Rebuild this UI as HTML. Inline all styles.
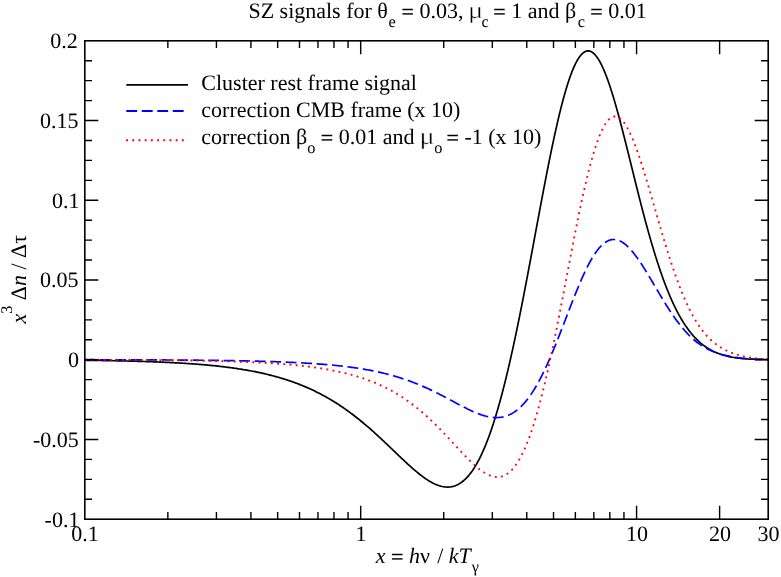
<!DOCTYPE html>
<html><head><meta charset="utf-8"><title>SZ signals</title>
<style>
html,body{margin:0;padding:0;background:#fff;}
body{width:781px;height:577px;overflow:hidden;}
svg{display:block;}
svg{will-change:transform;}
text{text-rendering:geometricPrecision;font-family:"Liberation Serif",serif;font-size:22px;fill:#000;}
.i{font-style:italic;}
.sub{font-size:16.3px;}
.eq{stroke:#000;stroke-width:0.3px;}
</style></head><body>
<svg width="781" height="577" viewBox="0 0 781 577">
<rect x="0" y="0" width="781" height="577" fill="#fff"/>
<g fill="none" stroke-linejoin="round">
<path d="M85.00,360.30 L86.20,360.31 L87.40,360.32 L88.60,360.34 L89.80,360.35 L91.01,360.37 L92.21,360.39 L93.41,360.40 L94.61,360.42 L95.81,360.44 L97.01,360.45 L98.21,360.47 L99.41,360.49 L100.61,360.51 L101.81,360.52 L103.02,360.54 L104.22,360.56 L105.42,360.58 L106.62,360.60 L107.82,360.62 L109.02,360.64 L110.22,360.66 L111.42,360.69 L112.62,360.71 L113.82,360.73 L115.03,360.75 L116.23,360.78 L117.43,360.80 L118.63,360.83 L119.83,360.85 L121.03,360.88 L122.23,360.90 L123.43,360.93 L124.63,360.96 L125.83,360.99 L127.03,361.01 L128.24,361.04 L129.44,361.07 L130.64,361.10 L131.84,361.13 L133.04,361.16 L134.24,361.20 L135.44,361.23 L136.64,361.26 L137.84,361.30 L139.04,361.33 L140.24,361.37 L141.44,361.40 L142.64,361.44 L143.84,361.48 L145.05,361.52 L146.25,361.56 L147.45,361.60 L148.65,361.64 L149.85,361.68 L151.05,361.72 L152.25,361.76 L153.45,361.81 L154.65,361.85 L155.85,361.90 L157.05,361.95 L158.25,361.99 L159.45,362.04 L160.65,362.09 L161.85,362.14 L163.05,362.20 L164.25,362.25 L165.45,362.30 L166.65,362.36 L167.85,362.41 L169.05,362.47 L170.25,362.53 L171.45,362.59 L172.65,362.65 L173.85,362.71 L175.05,362.78 L176.25,362.84 L177.45,362.91 L178.65,362.98 L179.84,363.05 L181.04,363.12 L182.24,363.19 L183.44,363.26 L184.64,363.34 L185.84,363.41 L187.04,363.49 L188.24,363.57 L189.44,363.65 L190.63,363.73 L191.83,363.82 L193.03,363.90 L194.23,363.99 L195.43,364.08 L196.62,364.17 L197.82,364.26 L199.02,364.36 L200.22,364.45 L201.41,364.55 L202.61,364.65 L203.81,364.76 L205.00,364.86 L206.20,364.97 L207.40,365.08 L208.59,365.19 L209.79,365.30 L210.98,365.41 L212.18,365.53 L213.37,365.65 L214.57,365.77 L215.76,365.90 L216.96,366.03 L218.15,366.16 L219.35,366.29 L220.54,366.42 L221.73,366.56 L222.93,366.70 L224.12,366.84 L225.31,366.99 L226.50,367.14 L227.69,367.29 L228.89,367.44 L230.08,367.60 L231.27,367.76 L232.46,367.92 L233.65,368.09 L234.84,368.26 L236.02,368.43 L237.21,368.61 L238.40,368.79 L239.59,368.97 L240.77,369.16 L241.96,369.35 L243.15,369.54 L244.33,369.74 L245.51,369.94 L246.70,370.14 L247.88,370.35 L249.06,370.56 L250.24,370.78 L251.43,371.00 L252.61,371.22 L253.79,371.45 L254.96,371.69 L256.14,371.92 L257.32,372.16 L258.49,372.41 L259.67,372.66 L260.84,372.91 L262.02,373.17 L263.19,373.43 L264.36,373.70 L265.53,373.97 L266.70,374.25 L267.87,374.53 L269.03,374.82 L270.20,375.11 L271.36,375.41 L272.52,375.71 L273.68,376.02 L274.84,376.33 L276.00,376.65 L277.16,376.97 L278.32,377.30 L279.47,377.63 L280.62,377.97 L281.77,378.31 L282.92,378.66 L284.07,379.02 L285.22,379.38 L286.36,379.74 L287.50,380.12 L288.64,380.49 L289.78,380.88 L290.92,381.27 L292.05,381.66 L293.18,382.06 L294.31,382.47 L295.44,382.88 L296.57,383.30 L297.69,383.73 L298.81,384.16 L299.93,384.60 L301.05,385.04 L302.16,385.49 L303.27,385.94 L304.38,386.40 L305.49,386.87 L306.59,387.35 L307.69,387.83 L308.79,388.31 L309.89,388.81 L310.98,389.30 L312.07,389.81 L313.16,390.32 L314.24,390.84 L315.32,391.36 L316.40,391.89 L317.47,392.43 L318.55,392.97 L319.62,393.52 L320.68,394.07 L321.74,394.63 L322.80,395.20 L323.86,395.77 L324.91,396.35 L325.96,396.93 L327.01,397.52 L328.05,398.12 L329.09,398.72 L330.13,399.32 L331.16,399.94 L332.19,400.56 L333.22,401.18 L334.24,401.81 L335.26,402.45 L336.27,403.09 L337.29,403.73 L338.29,404.39 L339.30,405.04 L340.30,405.71 L341.30,406.37 L342.29,407.05 L343.29,407.72 L344.27,408.41 L345.26,409.10 L346.24,409.79 L347.22,410.49 L348.19,411.19 L349.16,411.90 L350.13,412.61 L351.10,413.32 L352.06,414.04 L353.01,414.77 L353.97,415.50 L354.92,416.23 L355.87,416.97 L356.81,417.71 L357.76,418.46 L358.69,419.21 L359.63,419.96 L360.56,420.72 L361.49,421.48 L362.42,422.24 L363.34,423.01 L364.26,423.78 L365.18,424.55 L366.10,425.33 L367.01,426.11 L367.92,426.90 L368.83,427.68 L369.73,428.47 L370.64,429.26 L371.54,430.06 L372.43,430.86 L373.33,431.66 L374.22,432.46 L375.11,433.27 L376.00,434.07 L376.89,434.88 L377.78,435.69 L378.66,436.51 L379.54,437.32 L380.42,438.14 L381.30,438.96 L382.18,439.78 L383.05,440.60 L383.93,441.43 L384.80,442.25 L385.67,443.08 L386.54,443.90 L387.41,444.73 L388.28,445.56 L389.15,446.39 L390.02,447.22 L390.89,448.05 L391.75,448.88 L392.62,449.72 L393.49,450.55 L394.35,451.38 L395.22,452.21 L396.09,453.04 L396.95,453.88 L397.82,454.71 L398.69,455.54 L399.56,456.37 L400.43,457.19 L401.30,458.02 L402.17,458.85 L403.05,459.67 L403.92,460.49 L404.80,461.31 L405.68,462.13 L406.56,462.95 L407.44,463.76 L408.33,464.57 L409.22,465.38 L410.11,466.19 L411.00,466.99 L411.90,467.78 L412.81,468.57 L413.71,469.36 L414.62,470.15 L415.54,470.92 L416.46,471.69 L417.39,472.46 L418.32,473.22 L419.26,473.97 L420.20,474.71 L421.15,475.44 L422.11,476.17 L423.08,476.88 L424.05,477.58 L425.03,478.28 L426.02,478.95 L427.02,479.62 L428.03,480.27 L429.06,480.90 L430.09,481.52 L431.13,482.11 L432.19,482.68 L433.25,483.24 L434.33,483.76 L435.43,484.26 L436.53,484.73 L437.65,485.16 L438.79,485.56 L439.93,485.92 L441.09,486.24 L442.26,486.51 L443.44,486.73 L444.63,486.90 L445.82,487.02 L447.02,487.07 L448.23,487.07 L449.42,487.00 L450.62,486.86 L451.80,486.66 L452.97,486.40 L454.13,486.07 L455.27,485.69 L456.38,485.24 L457.47,484.74 L458.54,484.19 L459.58,483.58 L460.59,482.94 L461.58,482.25 L462.54,481.53 L463.47,480.77 L464.37,479.98 L465.26,479.17 L466.11,478.33 L466.95,477.46 L467.76,476.58 L468.55,475.67 L469.32,474.75 L470.07,473.81 L470.80,472.86 L471.52,471.89 L472.22,470.92 L472.90,469.93 L473.56,468.93 L474.22,467.92 L474.85,466.90 L475.48,465.88 L476.09,464.84 L476.69,463.80 L477.28,462.76 L477.86,461.70 L478.43,460.65 L478.99,459.58 L479.53,458.51 L480.07,457.44 L480.60,456.36 L481.12,455.28 L481.64,454.19 L482.14,453.10 L482.64,452.01 L483.13,450.91 L483.61,449.81 L484.09,448.71 L484.56,447.61 L485.02,446.50 L485.48,445.39 L485.93,444.27 L486.38,443.16 L486.82,442.04 L487.26,440.92 L487.69,439.80 L488.11,438.68 L488.53,437.55 L488.95,436.43 L489.36,435.30 L489.77,434.17 L490.17,433.04 L490.57,431.90 L490.96,430.77 L491.35,429.63 L491.74,428.50 L492.12,427.36 L492.50,426.22 L492.88,425.08 L493.25,423.93 L493.62,422.79 L493.99,421.65 L494.35,420.50 L494.71,419.36 L495.07,418.21 L495.42,417.06 L495.77,415.91 L496.12,414.76 L496.47,413.61 L496.81,412.46 L497.15,411.31 L497.49,410.16 L497.82,409.00 L498.16,407.85 L498.49,406.69 L498.81,405.54 L499.14,404.38 L499.46,403.23 L499.79,402.07 L500.10,400.91 L500.42,399.75 L500.74,398.59 L501.05,397.43 L501.36,396.27 L501.67,395.11 L501.98,393.95 L502.29,392.79 L502.59,391.63 L502.89,390.47 L503.19,389.30 L503.49,388.14 L503.79,386.98 L504.08,385.81 L504.38,384.65 L504.67,383.48 L504.96,382.32 L505.25,381.15 L505.54,379.98 L505.83,378.82 L506.11,377.65 L506.39,376.48 L506.68,375.32 L506.96,374.15 L507.24,372.98 L507.52,371.81 L507.79,370.64 L508.07,369.47 L508.34,368.31 L508.62,367.14 L508.89,365.97 L509.16,364.80 L509.43,363.63 L509.70,362.45 L509.97,361.28 L510.23,360.11 L510.50,358.94 L510.77,357.77 L511.03,356.60 L511.29,355.43 L511.55,354.25 L511.81,353.08 L512.07,351.91 L512.33,350.73 L512.59,349.56 L512.85,348.39 L513.10,347.21 L513.36,346.04 L513.61,344.87 L513.87,343.69 L514.12,342.52 L514.37,341.34 L514.62,340.17 L514.87,338.99 L515.12,337.82 L515.37,336.64 L515.62,335.47 L515.87,334.29 L516.11,333.12 L516.36,331.94 L516.60,330.77 L516.85,329.59 L517.09,328.41 L517.34,327.24 L517.58,326.06 L517.82,324.89 L518.06,323.71 L518.30,322.53 L518.54,321.35 L518.78,320.18 L519.02,319.00 L519.26,317.82 L519.50,316.65 L519.73,315.47 L519.97,314.29 L520.21,313.11 L520.44,311.94 L520.68,310.76 L520.91,309.58 L521.15,308.40 L521.38,307.22 L521.61,306.04 L521.85,304.87 L522.08,303.69 L522.31,302.51 L522.54,301.33 L522.77,300.15 L523.00,298.97 L523.23,297.79 L523.46,296.62 L523.69,295.44 L523.92,294.26 L524.15,293.08 L524.38,291.90 L524.61,290.72 L524.83,289.54 L525.06,288.36 L525.29,287.18 L525.51,286.00 L525.74,284.82 L525.97,283.64 L526.19,282.46 L526.42,281.28 L526.64,280.10 L526.87,278.92 L527.09,277.74 L527.32,276.56 L527.54,275.38 L527.76,274.20 L527.99,273.02 L528.21,271.84 L528.43,270.66 L528.66,269.48 L528.88,268.30 L529.10,267.12 L529.32,265.94 L529.55,264.76 L529.77,263.58 L529.99,262.40 L530.21,261.22 L530.43,260.04 L530.65,258.86 L530.87,257.68 L531.10,256.49 L531.32,255.31 L531.54,254.13 L531.76,252.95 L531.98,251.77 L532.20,250.59 L532.42,249.41 L532.64,248.23 L532.86,247.05 L533.08,245.87 L533.30,244.69 L533.52,243.51 L533.74,242.32 L533.96,241.14 L534.18,239.96 L534.40,238.78 L534.62,237.60 L534.84,236.42 L535.06,235.24 L535.28,234.06 L535.50,232.88 L535.71,231.70 L535.93,230.52 L536.15,229.33 L536.37,228.15 L536.59,226.97 L536.81,225.79 L537.03,224.61 L537.25,223.43 L537.47,222.25 L537.69,221.07 L537.91,219.89 L538.13,218.71 L538.35,217.53 L538.57,216.35 L538.80,215.16 L539.02,213.98 L539.24,212.80 L539.46,211.62 L539.68,210.44 L539.90,209.26 L540.12,208.08 L540.34,206.90 L540.57,205.72 L540.79,204.54 L541.01,203.36 L541.23,202.18 L541.46,201.00 L541.68,199.82 L541.90,198.64 L542.13,197.46 L542.35,196.28 L542.57,195.10 L542.80,193.92 L543.02,192.74 L543.25,191.56 L543.47,190.38 L543.70,189.20 L543.92,188.02 L544.15,186.84 L544.38,185.66 L544.60,184.48 L544.83,183.30 L545.06,182.12 L545.29,180.94 L545.52,179.76 L545.74,178.58 L545.97,177.40 L546.20,176.22 L546.43,175.05 L546.66,173.87 L546.90,172.69 L547.13,171.51 L547.36,170.33 L547.59,169.15 L547.83,167.97 L548.06,166.80 L548.29,165.62 L548.53,164.44 L548.77,163.26 L549.00,162.08 L549.24,160.91 L549.48,159.73 L549.71,158.55 L549.95,157.38 L550.19,156.20 L550.43,155.02 L550.67,153.84 L550.92,152.67 L551.16,151.49 L551.40,150.32 L551.65,149.14 L551.89,147.96 L552.14,146.79 L552.38,145.61 L552.63,144.44 L552.88,143.26 L553.13,142.09 L553.38,140.91 L553.63,139.74 L553.89,138.56 L554.14,137.39 L554.39,136.22 L554.65,135.04 L554.91,133.87 L555.17,132.70 L555.43,131.52 L555.69,130.35 L555.95,129.18 L556.21,128.01 L556.48,126.83 L556.74,125.66 L557.01,124.49 L557.28,123.32 L557.55,122.15 L557.82,120.98 L558.09,119.81 L558.37,118.64 L558.65,117.47 L558.92,116.30 L559.20,115.14 L559.49,113.97 L559.77,112.80 L560.06,111.64 L560.34,110.47 L560.64,109.30 L560.93,108.14 L561.22,106.97 L561.52,105.81 L561.82,104.65 L562.12,103.48 L562.42,102.32 L562.73,101.16 L563.04,100.00 L563.35,98.84 L563.67,97.68 L563.99,96.52 L564.31,95.37 L564.63,94.21 L564.96,93.05 L565.29,91.90 L565.63,90.75 L565.97,89.59 L566.31,88.44 L566.66,87.29 L567.01,86.15 L567.37,85.00 L567.73,83.85 L568.10,82.71 L568.47,81.57 L568.85,80.43 L569.23,79.29 L569.63,78.15 L570.02,77.02 L570.43,75.89 L570.84,74.76 L571.26,73.63 L571.69,72.51 L572.12,71.39 L572.57,70.28 L573.03,69.17 L573.50,68.06 L573.98,66.96 L574.47,65.87 L574.98,64.78 L575.51,63.70 L576.05,62.63 L576.61,61.57 L577.20,60.52 L577.80,59.48 L578.44,58.46 L579.10,57.46 L579.80,56.48 L580.54,55.53 L581.32,54.62 L582.16,53.76 L583.05,52.96 L584.02,52.25 L585.06,51.65 L586.17,51.20 L587.35,50.95 L588.55,50.92 L589.73,51.12 L590.86,51.53 L591.92,52.09 L592.91,52.77 L593.83,53.54 L594.69,54.38 L595.49,55.27 L596.25,56.20 L596.98,57.16 L597.66,58.14 L598.32,59.15 L598.95,60.17 L599.56,61.21 L600.14,62.26 L600.71,63.32 L601.25,64.39 L601.79,65.46 L602.30,66.55 L602.81,67.64 L603.30,68.73 L603.78,69.83 L604.25,70.94 L604.72,72.05 L605.17,73.16 L605.61,74.28 L606.05,75.40 L606.48,76.52 L606.90,77.64 L607.32,78.77 L607.73,79.90 L608.13,81.03 L608.53,82.16 L608.92,83.30 L609.31,84.43 L609.70,85.57 L610.08,86.71 L610.45,87.85 L610.82,88.99 L611.19,90.14 L611.55,91.28 L611.92,92.43 L612.27,93.58 L612.63,94.72 L612.98,95.87 L613.33,97.02 L613.67,98.17 L614.01,99.32 L614.35,100.48 L614.69,101.63 L615.03,102.78 L615.36,103.94 L615.69,105.09 L616.02,106.25 L616.35,107.40 L616.67,108.56 L616.99,109.71 L617.31,110.87 L617.63,112.03 L617.95,113.19 L618.27,114.35 L618.58,115.51 L618.90,116.67 L619.21,117.83 L619.52,118.99 L619.83,120.15 L620.14,121.31 L620.44,122.47 L620.75,123.63 L621.05,124.79 L621.36,125.95 L621.66,127.12 L621.96,128.28 L622.26,129.44 L622.56,130.61 L622.86,131.77 L623.16,132.93 L623.46,134.10 L623.75,135.26 L624.05,136.42 L624.35,137.59 L624.64,138.75 L624.94,139.92 L625.23,141.08 L625.52,142.25 L625.81,143.41 L626.11,144.58 L626.40,145.74 L626.69,146.91 L626.98,148.07 L627.27,149.24 L627.56,150.40 L627.85,151.57 L628.14,152.74 L628.43,153.90 L628.72,155.07 L629.01,156.23 L629.29,157.40 L629.58,158.57 L629.87,159.73 L630.16,160.90 L630.45,162.06 L630.74,163.23 L631.02,164.40 L631.31,165.56 L631.60,166.73 L631.89,167.90 L632.18,169.06 L632.46,170.23 L632.75,171.39 L633.04,172.56 L633.33,173.73 L633.62,174.89 L633.90,176.06 L634.19,177.22 L634.48,178.39 L634.77,179.56 L635.06,180.72 L635.35,181.89 L635.64,183.05 L635.93,184.22 L636.22,185.38 L636.51,186.55 L636.80,187.71 L637.10,188.88 L637.39,190.04 L637.68,191.21 L637.97,192.37 L638.27,193.54 L638.56,194.70 L638.86,195.87 L639.15,197.03 L639.45,198.20 L639.74,199.36 L640.04,200.52 L640.34,201.69 L640.64,202.85 L640.94,204.02 L641.24,205.18 L641.54,206.34 L641.84,207.50 L642.14,208.67 L642.44,209.83 L642.75,210.99 L643.05,212.15 L643.36,213.32 L643.66,214.48 L643.97,215.64 L644.28,216.80 L644.58,217.96 L644.89,219.12 L645.21,220.28 L645.52,221.44 L645.83,222.60 L646.14,223.76 L646.46,224.92 L646.78,226.08 L647.09,227.24 L647.41,228.39 L647.73,229.55 L648.05,230.71 L648.37,231.87 L648.70,233.02 L649.02,234.18 L649.35,235.34 L649.68,236.49 L650.01,237.65 L650.34,238.80 L650.67,239.96 L651.00,241.11 L651.34,242.26 L651.68,243.42 L652.01,244.57 L652.35,245.72 L652.70,246.87 L653.04,248.02 L653.39,249.17 L653.73,250.32 L654.08,251.47 L654.43,252.62 L654.79,253.77 L655.14,254.92 L655.50,256.06 L655.86,257.21 L656.22,258.36 L656.58,259.50 L656.95,260.64 L657.31,261.79 L657.68,262.93 L658.06,264.07 L658.43,265.21 L658.81,266.35 L659.19,267.49 L659.57,268.63 L659.96,269.77 L660.35,270.91 L660.74,272.04 L661.13,273.18 L661.53,274.31 L661.93,275.44 L662.33,276.58 L662.73,277.71 L663.14,278.84 L663.56,279.96 L663.97,281.09 L664.39,282.22 L664.81,283.34 L665.24,284.46 L665.67,285.59 L666.10,286.71 L666.54,287.82 L666.98,288.94 L667.43,290.06 L667.88,291.17 L668.33,292.28 L668.79,293.39 L669.25,294.50 L669.72,295.61 L670.19,296.71 L670.67,297.82 L671.15,298.92 L671.64,300.01 L672.13,301.11 L672.63,302.20 L673.13,303.29 L673.64,304.38 L674.15,305.47 L674.67,306.55 L675.20,307.63 L675.73,308.70 L676.27,309.78 L676.82,310.85 L677.38,311.91 L677.94,312.98 L678.50,314.03 L679.08,315.09 L679.66,316.14 L680.25,317.18 L680.85,318.22 L681.46,319.26 L682.08,320.29 L682.70,321.32 L683.34,322.34 L683.98,323.35 L684.64,324.36 L685.30,325.36 L685.98,326.35 L686.66,327.34 L687.36,328.32 L688.06,329.29 L688.78,330.25 L689.51,331.21 L690.25,332.15 L691.01,333.09 L691.77,334.01 L692.55,334.92 L693.34,335.83 L694.15,336.72 L694.97,337.60 L695.80,338.46 L696.65,339.32 L697.51,340.15 L698.38,340.98 L699.27,341.78 L700.18,342.58 L701.09,343.35 L702.03,344.11 L702.97,344.85 L703.93,345.57 L704.90,346.28 L705.89,346.96 L706.89,347.62 L707.91,348.27 L708.93,348.89 L709.97,349.49 L711.02,350.08 L712.09,350.64 L713.16,351.17 L714.24,351.69 L715.34,352.19 L716.44,352.66 L717.55,353.12 L718.67,353.55 L719.80,353.96 L720.94,354.36 L722.08,354.73 L723.23,355.08 L724.38,355.42 L725.54,355.73 L726.70,356.03 L727.87,356.31 L729.04,356.57 L730.22,356.82 L731.40,357.05 L732.58,357.27 L733.76,357.47 L734.95,357.66 L736.14,357.83 L737.33,357.99 L738.52,358.14 L739.71,358.28 L740.91,358.41 L742.10,358.53 L743.30,358.64 L744.50,358.73 L745.69,358.83 L746.89,358.91 L748.09,358.98 L749.29,359.05 L750.49,359.11 L751.69,359.17 L752.89,359.22 L754.09,359.27 L755.29,359.31 L756.49,359.34 L757.69,359.38 L758.89,359.40 L760.09,359.43 L761.29,359.45 L762.49,359.47 L763.70,359.49 L764.90,359.51 L766.10,359.52 L767.30,359.53 L768.20,359.54" stroke="#000" stroke-width="1.7"/>
<path d="M85.00,359.70 L86.20,359.70 L87.41,359.70 L88.61,359.71 L89.81,359.71 L91.01,359.71 L92.22,359.71 L93.42,359.72 L94.62,359.72 L95.82,359.72 L97.03,359.72 L98.23,359.72 L99.43,359.73 L100.63,359.73 L101.84,359.73 L103.04,359.73 L104.24,359.74 L105.44,359.74 L106.65,359.74 L107.85,359.75 L109.05,359.75 L110.25,359.75 L111.46,359.75 L112.66,359.76 L113.86,359.76 L115.06,359.76 L116.27,359.77 L117.47,359.77 L118.67,359.77 L119.87,359.78 L121.08,359.78 L122.28,359.78 L123.48,359.79 L124.68,359.79 L125.89,359.80 L127.09,359.80 L128.29,359.80 L129.50,359.81 L130.70,359.81 L131.90,359.81 L133.10,359.82 L134.31,359.82 L135.51,359.83 L136.71,359.83 L137.91,359.84 L139.12,359.84 L140.32,359.85 L141.52,359.85 L142.72,359.86 L143.93,359.86 L145.13,359.87 L146.33,359.87 L147.53,359.88 L148.74,359.88 L149.94,359.89 L151.14,359.89 L152.34,359.90 L153.55,359.90 L154.75,359.91 L155.95,359.92 L157.15,359.92 L158.36,359.93 L159.56,359.93 L160.76,359.94 L161.96,359.95 L163.17,359.95 L164.37,359.96 L165.57,359.97 L166.77,359.98 L167.98,359.98 L169.18,359.99 L170.38,360.00 L171.58,360.01 L172.79,360.01 L173.99,360.02 L175.19,360.03 L176.39,360.04 L177.60,360.05 L178.80,360.06 L180.00,360.06 L181.20,360.07 L182.41,360.08 L183.61,360.09 L184.81,360.10 L186.02,360.11 L187.22,360.12 L188.42,360.13 L189.62,360.14 L190.83,360.15 L192.03,360.16 L193.23,360.17 L194.43,360.18 L195.64,360.20 L196.84,360.21 L198.04,360.22 L199.24,360.23 L200.45,360.24 L201.65,360.26 L202.85,360.27 L204.05,360.28 L205.26,360.29 L206.46,360.31 L207.66,360.32 L208.86,360.34 L210.07,360.35 L211.27,360.36 L212.47,360.38 L213.67,360.39 L214.88,360.41 L216.08,360.43 L217.28,360.44 L218.48,360.46 L219.69,360.47 L220.89,360.49 L222.09,360.51 L223.29,360.53 L224.49,360.54 L225.70,360.56 L226.90,360.58 L228.10,360.60 L229.30,360.62 L230.51,360.64 L231.71,360.66 L232.91,360.68 L234.11,360.70 L235.32,360.72 L236.52,360.74 L237.72,360.77 L238.92,360.79 L240.13,360.81 L241.33,360.84 L242.53,360.86 L243.73,360.88 L244.94,360.91 L246.14,360.93 L247.34,360.96 L248.54,360.99 L249.74,361.01 L250.95,361.04 L252.15,361.07 L253.35,361.10 L254.55,361.13 L255.76,361.16 L256.96,361.19 L258.16,361.22 L259.36,361.25 L260.56,361.28 L261.77,361.32 L262.97,361.35 L264.17,361.38 L265.37,361.42 L266.57,361.45 L267.78,361.49 L268.98,361.53 L270.18,361.57 L271.38,361.60 L272.58,361.64 L273.79,361.68 L274.99,361.72 L276.19,361.77 L277.39,361.81 L278.59,361.85 L279.80,361.90 L281.00,361.94 L282.20,361.99 L283.40,362.04 L284.60,362.09 L285.80,362.14 L287.01,362.19 L288.21,362.24 L289.41,362.29 L290.61,362.34 L291.81,362.40 L293.01,362.45 L294.21,362.51 L295.41,362.57 L296.62,362.63 L297.82,362.69 L299.02,362.75 L300.22,362.82 L301.42,362.88 L302.62,362.95 L303.82,363.01 L305.02,363.08 L306.22,363.15 L307.42,363.23 L308.62,363.30 L309.82,363.38 L311.02,363.45 L312.22,363.53 L313.42,363.61 L314.62,363.69 L315.82,363.78 L317.02,363.86 L318.22,363.95 L319.42,364.04 L320.62,364.13 L321.82,364.22 L323.02,364.32 L324.22,364.42 L325.41,364.51 L326.61,364.62 L327.81,364.72 L329.01,364.83 L330.21,364.93 L331.40,365.05 L332.60,365.16 L333.80,365.27 L334.99,365.39 L336.19,365.51 L337.39,365.64 L338.58,365.76 L339.78,365.89 L340.97,366.02 L342.17,366.16 L343.36,366.30 L344.56,366.44 L345.75,366.58 L346.95,366.73 L348.14,366.88 L349.33,367.03 L350.52,367.19 L351.72,367.35 L352.91,367.51 L354.10,367.68 L355.29,367.85 L356.48,368.02 L357.67,368.20 L358.86,368.38 L360.04,368.57 L361.23,368.76 L362.42,368.95 L363.61,369.15 L364.79,369.35 L365.98,369.56 L367.16,369.77 L368.34,369.99 L369.52,370.21 L370.71,370.43 L371.89,370.66 L373.07,370.89 L374.24,371.13 L375.42,371.37 L376.60,371.62 L377.77,371.88 L378.95,372.13 L380.12,372.40 L381.29,372.67 L382.47,372.94 L383.64,373.22 L384.80,373.50 L385.97,373.79 L387.14,374.09 L388.30,374.39 L389.46,374.70 L390.63,375.01 L391.78,375.33 L392.94,375.65 L394.10,375.98 L395.25,376.32 L396.41,376.66 L397.56,377.01 L398.71,377.36 L399.86,377.72 L401.00,378.08 L402.15,378.45 L403.29,378.83 L404.43,379.21 L405.57,379.60 L406.70,380.00 L407.84,380.40 L408.97,380.81 L410.10,381.22 L411.22,381.64 L412.35,382.06 L413.47,382.49 L414.59,382.93 L415.71,383.37 L416.83,383.82 L417.94,384.27 L419.05,384.73 L420.16,385.19 L421.27,385.66 L422.37,386.14 L423.48,386.62 L424.58,387.11 L425.67,387.60 L426.77,388.09 L427.86,388.59 L428.95,389.10 L430.04,389.61 L431.13,390.13 L432.21,390.64 L433.30,391.17 L434.38,391.70 L435.46,392.23 L436.53,392.76 L437.61,393.30 L438.68,393.84 L439.75,394.39 L440.82,394.94 L441.89,395.49 L442.96,396.04 L444.02,396.60 L445.09,397.16 L446.15,397.72 L447.22,398.28 L448.28,398.85 L449.34,399.41 L450.40,399.98 L451.46,400.54 L452.52,401.11 L453.58,401.68 L454.64,402.25 L455.70,402.81 L456.76,403.38 L457.83,403.94 L458.89,404.51 L459.95,405.07 L461.02,405.63 L462.08,406.18 L463.15,406.73 L464.22,407.28 L465.30,407.82 L466.37,408.36 L467.45,408.90 L468.53,409.42 L469.61,409.94 L470.70,410.45 L471.79,410.96 L472.89,411.45 L473.99,411.94 L475.10,412.41 L476.21,412.87 L477.32,413.32 L478.44,413.76 L479.57,414.17 L480.70,414.58 L481.84,414.96 L482.99,415.33 L484.14,415.67 L485.30,415.99 L486.47,416.29 L487.64,416.56 L488.82,416.80 L490.00,417.02 L491.19,417.20 L492.38,417.34 L493.58,417.46 L494.78,417.53 L495.98,417.56 L497.18,417.55 L498.39,417.50 L499.58,417.41 L500.78,417.27 L501.97,417.08 L503.15,416.85 L504.32,416.57 L505.47,416.24 L506.62,415.87 L507.75,415.46 L508.86,415.00 L509.95,414.50 L511.03,413.96 L512.08,413.39 L513.12,412.78 L514.14,412.14 L515.13,411.46 L516.11,410.76 L517.06,410.03 L518.00,409.27 L518.91,408.49 L519.81,407.69 L520.69,406.87 L521.55,406.03 L522.39,405.17 L523.22,404.29 L524.03,403.41 L524.82,402.50 L525.60,401.59 L526.36,400.66 L527.11,399.72 L527.85,398.77 L528.57,397.81 L529.29,396.84 L529.99,395.86 L530.67,394.87 L531.35,393.88 L532.02,392.88 L532.68,391.87 L533.33,390.86 L533.96,389.84 L534.59,388.82 L535.22,387.79 L535.83,386.75 L536.43,385.71 L537.03,384.67 L537.62,383.62 L538.21,382.57 L538.78,381.52 L539.35,380.46 L539.92,379.40 L540.48,378.33 L541.03,377.26 L541.57,376.19 L542.12,375.12 L542.65,374.04 L543.18,372.96 L543.71,371.88 L544.23,370.80 L544.75,369.71 L545.26,368.63 L545.77,367.54 L546.28,366.45 L546.78,365.35 L547.28,364.26 L547.77,363.16 L548.26,362.06 L548.75,360.96 L549.24,359.86 L549.72,358.76 L550.20,357.66 L550.67,356.55 L551.14,355.45 L551.61,354.34 L552.08,353.23 L552.55,352.12 L553.01,351.01 L553.47,349.90 L553.93,348.79 L554.39,347.68 L554.84,346.57 L555.29,345.45 L555.75,344.34 L556.20,343.22 L556.64,342.11 L557.09,340.99 L557.53,339.87 L557.98,338.75 L558.42,337.64 L558.86,336.52 L559.30,335.40 L559.74,334.28 L560.18,333.16 L560.61,332.04 L561.05,330.92 L561.49,329.80 L561.92,328.67 L562.35,327.55 L562.79,326.43 L563.22,325.31 L563.65,324.19 L564.08,323.06 L564.52,321.94 L564.95,320.82 L565.38,319.70 L565.81,318.57 L566.24,317.45 L566.67,316.33 L567.10,315.21 L567.53,314.08 L567.96,312.96 L568.40,311.84 L568.83,310.72 L569.26,309.59 L569.70,308.47 L570.13,307.35 L570.56,306.23 L571.00,305.11 L571.44,303.99 L571.87,302.87 L572.31,301.75 L572.75,300.63 L573.19,299.51 L573.63,298.39 L574.08,297.27 L574.52,296.16 L574.97,295.04 L575.42,293.92 L575.87,292.81 L576.32,291.69 L576.77,290.58 L577.23,289.47 L577.69,288.36 L578.15,287.25 L578.61,286.14 L579.08,285.03 L579.55,283.92 L580.02,282.81 L580.49,281.71 L580.97,280.61 L581.45,279.50 L581.94,278.40 L582.43,277.31 L582.92,276.21 L583.42,275.11 L583.92,274.02 L584.43,272.93 L584.94,271.84 L585.46,270.76 L585.98,269.67 L586.51,268.59 L587.04,267.52 L587.59,266.44 L588.13,265.37 L588.69,264.31 L589.25,263.24 L589.83,262.19 L590.41,261.13 L591.00,260.08 L591.59,259.04 L592.20,258.01 L592.83,256.98 L593.46,255.95 L594.11,254.94 L594.77,253.93 L595.44,252.94 L596.13,251.95 L596.84,250.98 L597.56,250.02 L598.31,249.08 L599.08,248.15 L599.87,247.25 L600.68,246.36 L601.52,245.50 L602.40,244.68 L603.30,243.88 L604.23,243.13 L605.21,242.42 L606.21,241.76 L607.26,241.17 L608.35,240.66 L609.47,240.22 L610.62,239.88 L611.80,239.64 L612.99,239.51 L614.20,239.50 L615.39,239.59 L616.58,239.80 L617.74,240.10 L618.88,240.49 L619.98,240.97 L621.06,241.51 L622.10,242.11 L623.11,242.76 L624.09,243.45 L625.04,244.19 L625.97,244.96 L626.87,245.75 L627.75,246.58 L628.60,247.42 L629.44,248.28 L630.26,249.16 L631.06,250.06 L631.85,250.97 L632.62,251.89 L633.38,252.82 L634.13,253.76 L634.87,254.71 L635.59,255.67 L636.31,256.64 L637.01,257.61 L637.71,258.59 L638.40,259.58 L639.09,260.57 L639.76,261.56 L640.43,262.56 L641.10,263.56 L641.76,264.57 L642.41,265.58 L643.06,266.59 L643.70,267.60 L644.35,268.62 L644.98,269.64 L645.62,270.66 L646.25,271.69 L646.88,272.71 L647.50,273.74 L648.12,274.77 L648.75,275.80 L649.36,276.83 L649.98,277.86 L650.60,278.89 L651.21,279.93 L651.83,280.96 L652.44,282.00 L653.05,283.03 L653.66,284.07 L654.28,285.10 L654.89,286.14 L655.50,287.17 L656.11,288.21 L656.72,289.24 L657.33,290.28 L657.95,291.31 L658.56,292.35 L659.18,293.38 L659.79,294.41 L660.41,295.45 L661.03,296.48 L661.65,297.51 L662.27,298.54 L662.90,299.56 L663.52,300.59 L664.15,301.61 L664.78,302.64 L665.42,303.66 L666.05,304.68 L666.69,305.70 L667.34,306.71 L667.98,307.73 L668.63,308.74 L669.29,309.75 L669.94,310.76 L670.61,311.76 L671.27,312.76 L671.94,313.76 L672.62,314.76 L673.30,315.75 L673.98,316.74 L674.67,317.72 L675.37,318.70 L676.07,319.68 L676.78,320.65 L677.50,321.62 L678.22,322.58 L678.95,323.53 L679.68,324.49 L680.42,325.43 L681.18,326.37 L681.93,327.30 L682.70,328.23 L683.48,329.15 L684.26,330.06 L685.06,330.96 L685.86,331.86 L686.67,332.74 L687.50,333.62 L688.33,334.49 L689.17,335.34 L690.03,336.19 L690.89,337.02 L691.77,337.85 L692.66,338.66 L693.56,339.45 L694.47,340.24 L695.40,341.00 L696.34,341.76 L697.28,342.50 L698.25,343.22 L699.22,343.93 L700.20,344.62 L701.20,345.29 L702.21,345.94 L703.23,346.58 L704.26,347.19 L705.31,347.79 L706.36,348.37 L707.42,348.93 L708.50,349.47 L709.58,349.99 L710.68,350.50 L711.78,350.98 L712.89,351.44 L714.00,351.89 L715.13,352.32 L716.26,352.73 L717.39,353.12 L718.53,353.50 L719.68,353.86 L720.84,354.20 L721.99,354.53 L723.15,354.84 L724.32,355.14 L725.49,355.42 L726.66,355.70 L727.83,355.95 L729.01,356.20 L730.19,356.43 L731.37,356.65 L732.56,356.86 L733.74,357.06 L734.93,357.25 L736.12,357.43 L737.31,357.59 L738.50,357.75 L739.70,357.90 L740.89,358.04 L742.09,358.17 L743.28,358.29 L744.48,358.41 L745.68,358.52 L746.88,358.62 L748.07,358.71 L749.27,358.79 L750.47,358.87 L751.67,358.95 L752.87,359.01 L754.08,359.07 L755.28,359.13 L756.48,359.18 L757.68,359.23 L758.88,359.27 L760.08,359.31 L761.29,359.34 L762.49,359.38 L763.69,359.40 L764.89,359.43 L766.10,359.45 L767.30,359.47 L768.20,359.49" stroke="#0000ff" stroke-width="1.7" stroke-dasharray="10.85 4.65" stroke-dashoffset="0.8"/>
<path d="M85.00,359.75 L86.20,359.75 L87.40,359.76 L88.61,359.76 L89.81,359.76 L91.01,359.77 L92.21,359.77 L93.41,359.77 L94.62,359.78 L95.82,359.78 L97.02,359.78 L98.22,359.79 L99.42,359.79 L100.63,359.79 L101.83,359.80 L103.03,359.80 L104.23,359.81 L105.43,359.81 L106.64,359.82 L107.84,359.82 L109.04,359.82 L110.24,359.83 L111.44,359.83 L112.65,359.84 L113.85,359.84 L115.05,359.85 L116.25,359.85 L117.45,359.86 L118.66,359.86 L119.86,359.87 L121.06,359.88 L122.26,359.88 L123.46,359.89 L124.67,359.89 L125.87,359.90 L127.07,359.90 L128.27,359.91 L129.47,359.92 L130.68,359.92 L131.88,359.93 L133.08,359.94 L134.28,359.94 L135.48,359.95 L136.69,359.96 L137.89,359.97 L139.09,359.97 L140.29,359.98 L141.49,359.99 L142.70,360.00 L143.90,360.01 L145.10,360.01 L146.30,360.02 L147.50,360.03 L148.71,360.04 L149.91,360.05 L151.11,360.06 L152.31,360.07 L153.51,360.08 L154.72,360.09 L155.92,360.10 L157.12,360.11 L158.32,360.12 L159.52,360.13 L160.73,360.14 L161.93,360.15 L163.13,360.16 L164.33,360.17 L165.53,360.19 L166.73,360.20 L167.94,360.21 L169.14,360.22 L170.34,360.24 L171.54,360.25 L172.74,360.26 L173.95,360.28 L175.15,360.29 L176.35,360.30 L177.55,360.32 L178.75,360.33 L179.96,360.35 L181.16,360.37 L182.36,360.38 L183.56,360.40 L184.76,360.41 L185.97,360.43 L187.17,360.45 L188.37,360.47 L189.57,360.48 L190.77,360.50 L191.97,360.52 L193.18,360.54 L194.38,360.56 L195.58,360.58 L196.78,360.60 L197.98,360.62 L199.19,360.64 L200.39,360.66 L201.59,360.69 L202.79,360.71 L203.99,360.73 L205.19,360.76 L206.40,360.78 L207.60,360.80 L208.80,360.83 L210.00,360.86 L211.20,360.88 L212.41,360.91 L213.61,360.94 L214.81,360.96 L216.01,360.99 L217.21,361.02 L218.41,361.05 L219.62,361.08 L220.82,361.11 L222.02,361.14 L223.22,361.18 L224.42,361.21 L225.62,361.24 L226.82,361.28 L228.03,361.31 L229.23,361.35 L230.43,361.39 L231.63,361.42 L232.83,361.46 L234.03,361.50 L235.23,361.54 L236.44,361.58 L237.64,361.62 L238.84,361.67 L240.04,361.71 L241.24,361.76 L242.44,361.80 L243.64,361.85 L244.84,361.89 L246.04,361.94 L247.25,361.99 L248.45,362.04 L249.65,362.09 L250.85,362.15 L252.05,362.20 L253.25,362.26 L254.45,362.31 L255.65,362.37 L256.85,362.43 L258.05,362.49 L259.25,362.55 L260.45,362.61 L261.65,362.68 L262.85,362.74 L264.05,362.81 L265.25,362.88 L266.45,362.95 L267.65,363.02 L268.85,363.09 L270.05,363.16 L271.25,363.24 L272.45,363.32 L273.65,363.40 L274.85,363.48 L276.05,363.56 L277.25,363.64 L278.45,363.73 L279.65,363.82 L280.85,363.91 L282.04,364.00 L283.24,364.10 L284.44,364.19 L285.64,364.29 L286.84,364.39 L288.03,364.49 L289.23,364.60 L290.43,364.70 L291.63,364.81 L292.82,364.92 L294.02,365.04 L295.22,365.15 L296.41,365.27 L297.61,365.40 L298.80,365.52 L300.00,365.65 L301.19,365.78 L302.39,365.91 L303.58,366.04 L304.78,366.18 L305.97,366.32 L307.16,366.47 L308.36,366.62 L309.55,366.77 L310.74,366.92 L311.93,367.08 L313.12,367.24 L314.31,367.40 L315.50,367.57 L316.69,367.74 L317.88,367.92 L319.07,368.09 L320.26,368.28 L321.45,368.46 L322.63,368.65 L323.82,368.85 L325.01,369.05 L326.19,369.25 L327.38,369.46 L328.56,369.67 L329.74,369.88 L330.92,370.10 L332.10,370.33 L333.28,370.56 L334.46,370.79 L335.64,371.03 L336.82,371.28 L337.99,371.53 L339.17,371.78 L340.34,372.04 L341.51,372.31 L342.68,372.58 L343.85,372.85 L345.02,373.14 L346.19,373.42 L347.36,373.72 L348.52,374.02 L349.68,374.32 L350.84,374.63 L352.00,374.95 L353.16,375.27 L354.32,375.60 L355.47,375.94 L356.62,376.28 L357.77,376.63 L358.92,376.99 L360.07,377.35 L361.21,377.72 L362.35,378.10 L363.49,378.48 L364.63,378.87 L365.76,379.27 L366.89,379.67 L368.02,380.09 L369.15,380.51 L370.27,380.93 L371.39,381.37 L372.51,381.81 L373.63,382.26 L374.74,382.71 L375.85,383.18 L376.95,383.65 L378.06,384.13 L379.15,384.61 L380.25,385.11 L381.34,385.61 L382.43,386.12 L383.52,386.64 L384.60,387.16 L385.67,387.70 L386.75,388.24 L387.82,388.79 L388.88,389.34 L389.94,389.91 L391.00,390.48 L392.05,391.06 L393.10,391.65 L394.15,392.24 L395.19,392.85 L396.22,393.46 L397.25,394.07 L398.28,394.70 L399.30,395.33 L400.32,395.97 L401.33,396.62 L402.34,397.27 L403.35,397.93 L404.35,398.60 L405.34,399.27 L406.33,399.95 L407.32,400.64 L408.30,401.34 L409.27,402.04 L410.24,402.75 L411.21,403.46 L412.17,404.18 L413.13,404.91 L414.08,405.64 L415.03,406.38 L415.97,407.13 L416.91,407.88 L417.85,408.63 L418.78,409.39 L419.70,410.16 L420.62,410.93 L421.54,411.71 L422.45,412.49 L423.36,413.28 L424.26,414.07 L425.16,414.87 L426.06,415.67 L426.95,416.48 L427.84,417.29 L428.72,418.10 L429.60,418.92 L430.48,419.75 L431.35,420.57 L432.22,421.40 L433.09,422.24 L433.95,423.07 L434.81,423.92 L435.66,424.76 L436.52,425.61 L437.37,426.46 L438.21,427.31 L439.06,428.17 L439.90,429.02 L440.74,429.89 L441.57,430.75 L442.41,431.61 L443.24,432.48 L444.07,433.35 L444.89,434.22 L445.72,435.10 L446.54,435.97 L447.37,436.85 L448.19,437.73 L449.01,438.61 L449.83,439.49 L450.65,440.37 L451.46,441.25 L452.28,442.13 L453.09,443.01 L453.91,443.90 L454.73,444.78 L455.54,445.66 L456.36,446.54 L457.17,447.43 L457.99,448.31 L458.81,449.19 L459.63,450.07 L460.45,450.95 L461.27,451.82 L462.09,452.70 L462.92,453.57 L463.75,454.44 L464.58,455.31 L465.41,456.18 L466.25,457.04 L467.09,457.90 L467.94,458.75 L468.79,459.60 L469.64,460.45 L470.50,461.29 L471.37,462.12 L472.24,462.95 L473.12,463.77 L474.01,464.58 L474.90,465.38 L475.80,466.18 L476.71,466.96 L477.64,467.73 L478.57,468.49 L479.51,469.24 L480.47,469.96 L481.44,470.67 L482.42,471.37 L483.42,472.04 L484.43,472.68 L485.46,473.30 L486.51,473.89 L487.58,474.44 L488.67,474.95 L489.77,475.43 L490.90,475.85 L492.04,476.22 L493.20,476.52 L494.38,476.76 L495.57,476.93 L496.77,477.02 L497.97,477.02 L499.17,476.94 L500.36,476.76 L501.53,476.50 L502.68,476.16 L503.81,475.73 L504.90,475.23 L505.96,474.66 L506.98,474.03 L507.97,473.34 L508.92,472.61 L509.83,471.83 L510.72,471.02 L511.57,470.17 L512.39,469.29 L513.19,468.39 L513.96,467.47 L514.70,466.52 L515.42,465.56 L516.12,464.58 L516.80,463.59 L517.46,462.58 L518.10,461.57 L518.72,460.54 L519.33,459.50 L519.92,458.46 L520.50,457.40 L521.07,456.34 L521.62,455.28 L522.16,454.20 L522.69,453.13 L523.21,452.04 L523.72,450.95 L524.22,449.86 L524.71,448.76 L525.19,447.66 L525.67,446.56 L526.13,445.45 L526.59,444.34 L527.04,443.22 L527.49,442.11 L527.92,440.99 L528.35,439.86 L528.78,438.74 L529.20,437.61 L529.61,436.48 L530.02,435.35 L530.42,434.22 L530.82,433.09 L531.21,431.95 L531.60,430.81 L531.98,429.67 L532.36,428.53 L532.73,427.39 L533.10,426.25 L533.47,425.10 L533.83,423.95 L534.19,422.81 L534.55,421.66 L534.90,420.51 L535.25,419.36 L535.59,418.21 L535.93,417.06 L536.27,415.90 L536.61,414.75 L536.94,413.59 L537.27,412.44 L537.60,411.28 L537.92,410.12 L538.24,408.97 L538.56,407.81 L538.88,406.65 L539.19,405.49 L539.51,404.33 L539.82,403.16 L540.12,402.00 L540.43,400.84 L540.73,399.68 L541.03,398.51 L541.33,397.35 L541.63,396.18 L541.93,395.02 L542.22,393.85 L542.51,392.69 L542.80,391.52 L543.09,390.35 L543.38,389.19 L543.66,388.02 L543.95,386.85 L544.23,385.68 L544.51,384.51 L544.79,383.35 L545.06,382.18 L545.34,381.01 L545.61,379.84 L545.89,378.66 L546.16,377.49 L546.43,376.32 L546.70,375.15 L546.97,373.98 L547.23,372.81 L547.50,371.64 L547.76,370.46 L548.03,369.29 L548.29,368.12 L548.55,366.94 L548.81,365.77 L549.07,364.60 L549.33,363.42 L549.58,362.25 L549.84,361.07 L550.10,359.90 L550.35,358.72 L550.60,357.55 L550.85,356.37 L551.11,355.20 L551.36,354.02 L551.61,352.85 L551.86,351.67 L552.10,350.49 L552.35,349.32 L552.60,348.14 L552.84,346.97 L553.09,345.79 L553.33,344.61 L553.58,343.43 L553.82,342.26 L554.06,341.08 L554.30,339.90 L554.54,338.73 L554.78,337.55 L555.02,336.37 L555.26,335.19 L555.50,334.01 L555.74,332.84 L555.98,331.66 L556.21,330.48 L556.45,329.30 L556.69,328.12 L556.92,326.94 L557.16,325.76 L557.39,324.59 L557.63,323.41 L557.86,322.23 L558.09,321.05 L558.33,319.87 L558.56,318.69 L558.79,317.51 L559.02,316.33 L559.25,315.15 L559.48,313.97 L559.71,312.79 L559.94,311.61 L560.17,310.43 L560.40,309.25 L560.63,308.07 L560.86,306.89 L561.09,305.71 L561.32,304.53 L561.55,303.35 L561.78,302.17 L562.00,300.99 L562.23,299.81 L562.46,298.63 L562.69,297.45 L562.91,296.27 L563.14,295.09 L563.37,293.91 L563.59,292.73 L563.82,291.55 L564.05,290.37 L564.27,289.19 L564.50,288.01 L564.72,286.83 L564.95,285.65 L565.18,284.47 L565.40,283.28 L565.63,282.10 L565.85,280.92 L566.08,279.74 L566.30,278.56 L566.53,277.38 L566.75,276.20 L566.98,275.02 L567.21,273.84 L567.43,272.66 L567.66,271.48 L567.88,270.30 L568.11,269.12 L568.33,267.94 L568.56,266.76 L568.79,265.58 L569.01,264.39 L569.24,263.21 L569.47,262.03 L569.69,260.85 L569.92,259.67 L570.15,258.49 L570.37,257.31 L570.60,256.13 L570.83,254.95 L571.05,253.77 L571.28,252.59 L571.51,251.41 L571.74,250.23 L571.97,249.05 L572.20,247.87 L572.43,246.69 L572.66,245.51 L572.89,244.33 L573.12,243.15 L573.35,241.97 L573.58,240.79 L573.81,239.61 L574.04,238.43 L574.27,237.25 L574.50,236.07 L574.74,234.90 L574.97,233.72 L575.20,232.54 L575.44,231.36 L575.67,230.18 L575.91,229.00 L576.15,227.82 L576.38,226.64 L576.62,225.46 L576.86,224.29 L577.09,223.11 L577.33,221.93 L577.57,220.75 L577.81,219.57 L578.05,218.40 L578.29,217.22 L578.54,216.04 L578.78,214.86 L579.02,213.69 L579.27,212.51 L579.51,211.33 L579.76,210.16 L580.01,208.98 L580.25,207.81 L580.50,206.63 L580.75,205.45 L581.00,204.28 L581.26,203.10 L581.51,201.93 L581.76,200.75 L582.02,199.58 L582.27,198.40 L582.53,197.23 L582.79,196.06 L583.05,194.88 L583.31,193.71 L583.57,192.54 L583.83,191.36 L584.10,190.19 L584.36,189.02 L584.63,187.85 L584.90,186.67 L585.17,185.50 L585.44,184.33 L585.72,183.16 L585.99,181.99 L586.27,180.82 L586.55,179.65 L586.83,178.48 L587.11,177.32 L587.40,176.15 L587.69,174.98 L587.97,173.81 L588.27,172.65 L588.56,171.48 L588.85,170.32 L589.15,169.15 L589.45,167.99 L589.76,166.83 L590.06,165.66 L590.37,164.50 L590.68,163.34 L591.00,162.18 L591.32,161.02 L591.64,159.86 L591.96,158.71 L592.29,157.55 L592.62,156.39 L592.96,155.24 L593.30,154.09 L593.64,152.94 L593.99,151.79 L594.34,150.64 L594.70,149.49 L595.06,148.34 L595.43,147.20 L595.81,146.06 L596.19,144.92 L596.57,143.78 L596.96,142.64 L597.37,141.51 L597.77,140.38 L598.19,139.25 L598.61,138.13 L599.05,137.00 L599.49,135.89 L599.94,134.77 L600.41,133.67 L600.89,132.56 L601.38,131.47 L601.88,130.37 L602.40,129.29 L602.94,128.22 L603.50,127.15 L604.08,126.10 L604.68,125.06 L605.31,124.04 L605.97,123.03 L606.67,122.05 L607.41,121.10 L608.19,120.19 L609.02,119.32 L609.91,118.52 L610.88,117.80 L611.92,117.20 L613.03,116.75 L614.20,116.49 L615.40,116.45 L616.59,116.63 L617.72,117.02 L618.79,117.56 L619.79,118.23 L620.73,118.99 L621.60,119.81 L622.42,120.69 L623.20,121.61 L623.93,122.55 L624.64,123.53 L625.31,124.53 L625.96,125.54 L626.58,126.57 L627.18,127.61 L627.77,128.66 L628.33,129.72 L628.88,130.79 L629.42,131.86 L629.94,132.94 L630.45,134.03 L630.95,135.12 L631.44,136.22 L631.93,137.32 L632.40,138.43 L632.86,139.54 L633.32,140.65 L633.77,141.76 L634.21,142.88 L634.65,144.00 L635.08,145.12 L635.50,146.25 L635.92,147.37 L636.34,148.50 L636.75,149.63 L637.15,150.76 L637.56,151.90 L637.95,153.03 L638.35,154.17 L638.74,155.30 L639.13,156.44 L639.51,157.58 L639.89,158.72 L640.27,159.86 L640.64,161.00 L641.02,162.15 L641.39,163.29 L641.75,164.43 L642.12,165.58 L642.48,166.73 L642.84,167.87 L643.20,169.02 L643.56,170.17 L643.92,171.31 L644.27,172.46 L644.62,173.61 L644.97,174.76 L645.32,175.91 L645.67,177.06 L646.02,178.21 L646.36,179.36 L646.71,180.52 L647.05,181.67 L647.39,182.82 L647.73,183.97 L648.08,185.13 L648.41,186.28 L648.75,187.43 L649.09,188.59 L649.43,189.74 L649.76,190.89 L650.10,192.05 L650.44,193.20 L650.77,194.36 L651.10,195.51 L651.44,196.67 L651.77,197.82 L652.11,198.98 L652.44,200.13 L652.77,201.29 L653.10,202.44 L653.44,203.60 L653.77,204.75 L654.10,205.91 L654.43,207.06 L654.76,208.22 L655.10,209.37 L655.43,210.53 L655.76,211.68 L656.09,212.84 L656.43,213.99 L656.76,215.15 L657.09,216.30 L657.42,217.46 L657.76,218.61 L658.09,219.77 L658.43,220.92 L658.76,222.08 L659.10,223.23 L659.43,224.38 L659.77,225.54 L660.11,226.69 L660.44,227.85 L660.78,229.00 L661.12,230.15 L661.46,231.31 L661.80,232.46 L662.14,233.61 L662.48,234.76 L662.83,235.92 L663.17,237.07 L663.51,238.22 L663.86,239.37 L664.21,240.52 L664.55,241.67 L664.90,242.82 L665.25,243.97 L665.60,245.12 L665.96,246.27 L666.31,247.42 L666.67,248.57 L667.02,249.72 L667.38,250.86 L667.74,252.01 L668.10,253.16 L668.46,254.30 L668.83,255.45 L669.19,256.59 L669.56,257.74 L669.93,258.88 L670.30,260.03 L670.67,261.17 L671.05,262.31 L671.42,263.45 L671.80,264.59 L672.18,265.73 L672.56,266.87 L672.95,268.01 L673.34,269.15 L673.73,270.29 L674.12,271.42 L674.51,272.56 L674.91,273.69 L675.31,274.83 L675.71,275.96 L676.11,277.09 L676.52,278.22 L676.93,279.35 L677.35,280.48 L677.76,281.61 L678.18,282.73 L678.60,283.86 L679.03,284.98 L679.46,286.11 L679.89,287.23 L680.33,288.35 L680.77,289.46 L681.22,290.58 L681.66,291.70 L682.12,292.81 L682.57,293.92 L683.03,295.03 L683.50,296.14 L683.97,297.25 L684.45,298.35 L684.93,299.45 L685.41,300.55 L685.90,301.65 L686.40,302.75 L686.90,303.84 L687.40,304.93 L687.92,306.02 L688.43,307.10 L688.96,308.18 L689.49,309.26 L690.03,310.33 L690.57,311.41 L691.12,312.47 L691.68,313.54 L692.25,314.60 L692.83,315.65 L693.41,316.70 L694.00,317.75 L694.60,318.79 L695.21,319.83 L695.83,320.86 L696.46,321.88 L697.09,322.90 L697.74,323.92 L698.40,324.92 L699.07,325.92 L699.75,326.91 L700.44,327.89 L701.14,328.87 L701.86,329.83 L702.59,330.79 L703.33,331.74 L704.08,332.67 L704.85,333.60 L705.63,334.51 L706.43,335.41 L707.24,336.30 L708.06,337.18 L708.90,338.04 L709.75,338.88 L710.62,339.71 L711.50,340.53 L712.40,341.33 L713.32,342.11 L714.24,342.88 L715.19,343.62 L716.14,344.35 L717.11,345.06 L718.10,345.75 L719.10,346.42 L720.11,347.07 L721.13,347.70 L722.17,348.31 L723.21,348.89 L724.27,349.46 L725.34,350.01 L726.42,350.54 L727.51,351.05 L728.61,351.54 L729.71,352.02 L730.83,352.47 L731.95,352.90 L733.07,353.32 L734.21,353.72 L735.35,354.10 L736.49,354.46 L737.64,354.81 L738.80,355.14 L739.96,355.46 L741.12,355.76 L742.29,356.04 L743.46,356.31 L744.64,356.57 L745.82,356.81 L747.00,357.04 L748.18,357.25 L749.36,357.45 L750.55,357.64 L751.74,357.81 L752.93,357.98 L754.12,358.13 L755.32,358.27 L756.51,358.40 L757.71,358.52 L758.90,358.64 L760.10,358.74 L761.30,358.83 L762.50,358.92 L763.70,358.99 L764.90,359.06 L766.10,359.13 L767.30,359.19 L768.20,359.24" stroke="#ff0000" stroke-width="1.85" stroke-dasharray="1.9 4.3"/>
</g>
<g stroke="#000" stroke-width="1.6" fill="none" stroke-linecap="butt">
<rect x="84.8" y="40.8" width="683.4" height="478.4"/>
</g>
<g stroke="#000" stroke-width="1.4" fill="none">
<path d="M84.8,499.27h7.2 M768.2,499.27h-7.2"/>
<path d="M84.8,479.33h7.2 M768.2,479.33h-7.2"/>
<path d="M84.8,459.40h7.2 M768.2,459.40h-7.2"/>
<path d="M84.8,439.47h13.5 M768.2,439.47h-13.5"/>
<path d="M84.8,419.53h7.2 M768.2,419.53h-7.2"/>
<path d="M84.8,399.60h7.2 M768.2,399.60h-7.2"/>
<path d="M84.8,379.67h7.2 M768.2,379.67h-7.2"/>
<path d="M84.8,359.73h13.5 M768.2,359.73h-13.5"/>
<path d="M84.8,339.80h7.2 M768.2,339.80h-7.2"/>
<path d="M84.8,319.87h7.2 M768.2,319.87h-7.2"/>
<path d="M84.8,299.93h7.2 M768.2,299.93h-7.2"/>
<path d="M84.8,280.00h13.5 M768.2,280.00h-13.5"/>
<path d="M84.8,260.07h7.2 M768.2,260.07h-7.2"/>
<path d="M84.8,240.13h7.2 M768.2,240.13h-7.2"/>
<path d="M84.8,220.20h7.2 M768.2,220.20h-7.2"/>
<path d="M84.8,200.27h13.5 M768.2,200.27h-13.5"/>
<path d="M84.8,180.33h7.2 M768.2,180.33h-7.2"/>
<path d="M84.8,160.40h7.2 M768.2,160.40h-7.2"/>
<path d="M84.8,140.47h7.2 M768.2,140.47h-7.2"/>
<path d="M84.8,120.53h13.5 M768.2,120.53h-13.5"/>
<path d="M84.8,100.60h7.2 M768.2,100.60h-7.2"/>
<path d="M84.8,80.67h7.2 M768.2,80.67h-7.2"/>
<path d="M84.8,60.73h7.2 M768.2,60.73h-7.2"/>
<path d="M360.68,519.2v-13.5 M360.68,40.8v13.5"/>
<path d="M636.57,519.2v-13.5 M636.57,40.8v13.5"/>
<path d="M719.62,519.2v-13.5 M719.62,40.8v13.5"/>
<path d="M167.85,519.2v-7.2 M167.85,40.8v7.2"/>
<path d="M216.43,519.2v-7.2 M216.43,40.8v7.2"/>
<path d="M250.90,519.2v-7.2 M250.90,40.8v7.2"/>
<path d="M277.64,519.2v-7.2 M277.64,40.8v7.2"/>
<path d="M299.48,519.2v-7.2 M299.48,40.8v7.2"/>
<path d="M317.95,519.2v-7.2 M317.95,40.8v7.2"/>
<path d="M333.95,519.2v-7.2 M333.95,40.8v7.2"/>
<path d="M348.06,519.2v-7.2 M348.06,40.8v7.2"/>
<path d="M443.73,519.2v-7.2 M443.73,40.8v7.2"/>
<path d="M492.32,519.2v-7.2 M492.32,40.8v7.2"/>
<path d="M526.78,519.2v-7.2 M526.78,40.8v7.2"/>
<path d="M553.52,519.2v-7.2 M553.52,40.8v7.2"/>
<path d="M575.36,519.2v-7.2 M575.36,40.8v7.2"/>
<path d="M593.83,519.2v-7.2 M593.83,40.8v7.2"/>
<path d="M609.83,519.2v-7.2 M609.83,40.8v7.2"/>
<path d="M623.95,519.2v-7.2 M623.95,40.8v7.2"/>
</g>
<text x="77.8" y="48.2" text-anchor="end">0.2</text>
<text x="78.6" y="127.9" text-anchor="end">0.15</text>
<text x="79.5" y="207.7" text-anchor="end">0.1</text>
<text x="78.6" y="287.4" text-anchor="end">0.05</text>
<text x="79.0" y="367.1" text-anchor="end">0</text>
<text x="78.8" y="446.9" text-anchor="end">-0.05</text>
<text x="79.4" y="526.6" text-anchor="end">-0.1</text>
<text x="85.1" y="541" text-anchor="middle">0.1</text>
<text x="361.0" y="541" text-anchor="middle">1</text>
<text x="636.9" y="541" text-anchor="middle">10</text>
<text x="719.9" y="541" text-anchor="middle">20</text>
<text x="768.5" y="541" text-anchor="middle">30</text>
<text x="248.4" y="18.2">SZ signals for θ</text>
<text x="388.6" y="26.9" class="sub">e</text>
<text x="401.6" y="18.2"><tspan dy="1.1" class="eq">=</tspan><tspan dy="-1.1"> </tspan>0.03,</text>
<text transform="translate(468.0,18.2) scale(1.29,1.08)" stroke="#fff" stroke-width="0.4">μ</text>
<text x="481.5" y="26.9" class="sub">c</text>
<text x="493.3" y="18.2"><tspan dy="1.1" class="eq">=</tspan><tspan dy="-1.1"> </tspan>1 and β</text>
<text x="577.8" y="26.9" class="sub">c</text>
<text x="590.3" y="18.2"><tspan dy="1.1" class="eq">=</tspan><tspan dy="-1.1"> </tspan>0.01</text>
<g fill="none" stroke-width="1.8">
<path d="M126.3,84.8H188" stroke="#000"/>
<path d="M126.3,111H188" stroke="#0000ff" stroke-dasharray="10.85 4.65"/>
<path d="M126.1,140.2H188" stroke="#ff0000" stroke-width="1.85" stroke-dasharray="1.9 4.3"/>
</g>
<text x="201.3" y="89.5">Cluster rest frame signal</text>
<text x="201.3" y="116.6">correction CMB frame (x 10)</text>
<text x="201.3" y="144">correction β<tspan class="sub" dy="8.7">o</tspan><tspan dy="-8.7"> </tspan><tspan dy="1.1" class="eq">=</tspan><tspan dy="-1.1"> </tspan>0.01 and</text>
<text transform="translate(419.5,144) scale(1.29,1.08)" stroke="#fff" stroke-width="0.4">μ</text>
<text x="434.2" y="152.7" class="sub">o</text>
<text x="446.5" y="144"><tspan dy="1.1" class="eq">=</tspan><tspan dy="-1.1"> </tspan>-1 (x 10)</text>
<text x="375.8" y="563.2"><tspan class="i">x</tspan> <tspan dy="1.1" class="eq">=</tspan><tspan dy="-1.1"> </tspan><tspan class="i">h</tspan>ν <tspan dx="1.8">/</tspan> <tspan class="i">kT</tspan><tspan class="sub" dy="8.7" dx="0.8">γ</tspan></text>
<text transform="translate(26.1,323.6) rotate(-90)"><tspan class="i">x</tspan><tspan class="sub" dy="-14.3">3</tspan><tspan dy="14.3"> Δ</tspan><tspan class="i">n</tspan> / Δτ</text>
</svg></body></html>
